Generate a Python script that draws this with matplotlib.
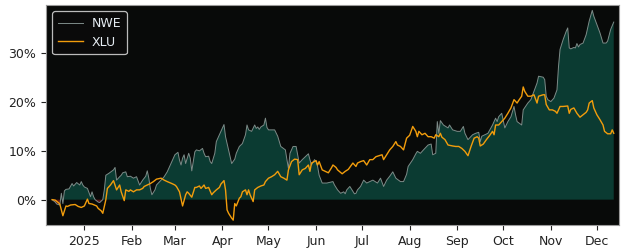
import matplotlib
matplotlib.use("Agg")
import matplotlib.pyplot as plt
import matplotlib.dates as mdates
import matplotlib.ticker as mticker
import numpy as np
import pandas as pd

# Day offsets from 2025-01-01 and cumulative returns (%)
nwe_days = [-21, -19, -18, -16, -15, -14, -13, -12, -10, -8, -7, -5, -3, -2, -1, 0, 2, 4, 5, 6, 7, 9, 10, 12,
            13, 14, 16, 19, 20, 21, 23, 24, 25, 27, 28, 30, 32, 34, 36, 38, 40, 41, 42, 43, 44, 46, 47, 50,
            52, 54, 55, 57, 58, 59, 61, 62, 63, 64, 65, 66, 68, 69, 70, 72, 73, 75, 77, 78, 79, 81, 82, 83,
            85, 86, 88, 91, 92, 94, 95, 96, 98, 99, 101, 103, 105, 106, 107, 109, 111, 112, 113, 114, 115,
            117, 118, 119, 120, 122, 124, 126, 128, 131, 132, 133, 134, 136, 138, 140, 142, 144, 146, 147,
            148, 150, 151, 152, 153, 155, 158, 162, 163, 165, 167, 169, 170, 171, 173, 175, 176, 177, 178,
            180, 182, 184, 186, 188, 191, 193, 195, 197, 199, 201, 203, 206, 208, 210, 211, 214, 216, 217,
            219, 221, 224, 226, 227, 229, 230, 231, 232, 234, 237, 238, 240, 243, 245, 247, 248, 250, 253,
            255, 257, 258, 259, 261, 263, 266, 268, 269, 270, 272, 274, 276, 278, 280, 281, 282, 285, 286,
            289, 291, 293, 295, 296, 299, 300, 301, 302, 304, 306, 308, 309, 310, 312, 314, 315, 316, 317,
            319, 320, 321, 322, 323, 325, 327, 329, 331, 332, 334, 336, 338, 340, 341, 343, 345]
nwe_vals = [0.0, -0.5, -0.9, -1.1, 1.3, -0.8, 1.8, 2.1, 2.2, 3.3, 2.8, 3.5, 3.0, 3.7, 3.0, 2.6, 2.3, 0.6,
            1.6, 0.6, 0.0, -0.5, -0.6, 0.0, 2.0, 5.0, 5.4, 6.1, 6.6, 4.0, 4.7, 5.0, 5.5, 5.7, 4.7, 4.8, 4.4,
            4.7, 3.0, 4.0, 4.8, 5.9, 4.4, 2.3, 1.0, 2.0, 3.0, 4.0, 4.7, 5.7, 6.4, 7.8, 8.5, 9.2, 9.7, 8.1,
            7.1, 8.5, 9.2, 7.4, 9.5, 8.5, 5.9, 9.8, 10.2, 10.0, 10.5, 9.5, 8.8, 8.9, 7.8, 7.4, 9.5, 11.9,
            13.3, 15.4, 12.9, 10.2, 8.8, 7.4, 8.3, 9.5, 10.9, 11.5, 13.3, 15.3, 14.3, 14.0, 15.3, 14.6, 14.9,
            14.4, 14.9, 15.3, 16.7, 14.8, 14.3, 14.3, 14.3, 13.0, 10.9, 10.2, 8.2, 6.4, 9.5, 10.9, 10.9, 7.5,
            8.2, 8.8, 9.4, 8.2, 7.1, 8.2, 7.8, 6.8, 5.0, 3.4, 3.4, 3.7, 3.0, 2.0, 1.3, 1.6, 1.2, 2.0, 2.7,
            1.7, 1.2, 1.3, 2.0, 2.7, 4.0, 3.4, 3.7, 4.0, 3.4, 4.4, 2.7, 4.0, 4.8, 5.7, 4.4, 3.7, 3.7, 5.2,
            6.8, 8.2, 9.4, 9.9, 9.5, 10.2, 11.2, 11.4, 9.2, 9.5, 16.0, 13.6, 16.2, 15.3, 14.7, 15.3, 14.3,
            14.0, 14.0, 15.0, 13.6, 12.3, 13.3, 13.6, 13.8, 11.9, 13.0, 13.3, 13.6, 15.3, 16.7, 16.0, 17.0,
            17.7, 14.7, 16.0, 17.0, 19.1, 17.4, 16.0, 15.3, 18.4, 19.8, 20.5, 22.2, 23.9, 25.3, 25.1, 24.6,
            21.2, 20.5, 20.1, 20.8, 22.5, 27.3, 30.8, 32.8, 34.5, 35.2, 31.1, 30.9, 31.2, 31.1, 32.0, 31.3,
            31.8, 32.1, 33.8, 36.6, 38.8, 37.6, 35.9, 34.2, 32.1, 32.1, 32.5, 34.9, 36.4]

xlu_days = [-21, -19, -17, -16, -14, -13, -12, -11, -9, -6, -4, -2, 0, 2, 3, 5, 8, 9, 11, 12, 14, 15, 17,
            19, 21, 23, 24, 26, 27, 29, 30, 32, 34, 36, 38, 39, 41, 43, 45, 47, 50, 52, 54, 57, 59, 60, 62,
            64, 66, 67, 68, 70, 72, 73, 75, 76, 78, 79, 81, 83, 84, 86, 88, 89, 91, 92, 93, 94, 96, 97, 98,
            99, 101, 102, 103, 105, 106, 107, 108, 110, 111, 113, 115, 117, 118, 120, 122, 124, 126, 128,
            130, 132, 133, 135, 137, 139, 140, 142, 144, 146, 147, 148, 151, 152, 153, 155, 157, 159, 161,
            162, 164, 165, 168, 170, 172, 175, 177, 178, 180, 182, 184, 186, 188, 190, 192, 194, 195, 197,
            199, 201, 203, 204, 206, 208, 210, 212, 214, 216, 217, 218, 220, 222, 224, 226, 228, 229, 231,
            232, 233, 235, 237, 240, 242, 244, 246, 248, 250, 252, 254, 256, 257, 258, 260, 262, 264, 266,
            267, 268, 270, 272, 274, 276, 278, 280, 282, 283, 285, 286, 287, 289, 291, 293, 295, 296, 299,
            300, 301, 303, 305, 307, 308, 310, 312, 315, 316, 317, 319, 321, 323, 325, 327, 328, 329, 331,
            332, 334, 336, 338, 339, 341, 343, 344, 345]
xlu_vals = [0.0, -0.1, -0.6, -0.9, -3.3, -2.3, -1.3, -1.4, -1.1, -1.0, -1.4, -1.6, -1.3, 0.1, -0.8, -0.9,
            -1.3, -1.8, -2.3, -2.8, 0.0, 2.3, 3.0, 3.9, 2.0, 3.0, 1.6, -0.2, 2.0, 1.7, 2.0, 1.6, 2.0, 2.0,
            2.3, 2.7, 3.0, 3.3, 3.7, 4.2, 4.4, 4.0, 3.7, 3.3, 3.0, 2.7, 1.6, -1.3, 1.0, 1.6, 1.3, 0.5, 2.5,
            2.5, 2.8, 2.3, 3.0, 2.3, 2.5, 1.0, 1.4, 2.0, 2.5, 3.2, 3.9, 2.0, -2.1, -2.8, -3.8, -4.2, -0.8,
            -1.3, 0.3, 0.6, 1.6, 2.0, 1.0, 2.0, 1.0, -0.4, 2.0, 2.5, 2.8, 3.0, 3.7, 4.4, 4.7, 5.1, 5.8, 4.7,
            4.4, 4.0, 6.1, 7.8, 8.3, 8.2, 5.1, 6.1, 6.4, 7.1, 5.8, 7.5, 8.0, 7.1, 7.8, 6.1, 5.8, 5.5, 6.5,
            7.1, 6.6, 6.1, 5.3, 5.8, 6.2, 7.5, 6.8, 7.5, 7.8, 8.0, 7.1, 8.2, 8.2, 8.8, 9.0, 9.2, 8.2, 9.2,
            10.2, 10.9, 11.9, 11.2, 10.9, 10.2, 12.6, 13.2, 15.0, 14.0, 12.9, 14.0, 13.3, 13.6, 12.9, 12.9,
            12.6, 13.3, 12.9, 13.6, 12.8, 12.3, 11.2, 11.0, 10.9, 10.9, 10.5, 9.9, 9.0, 10.9, 12.6, 12.9,
            12.6, 11.0, 11.4, 12.3, 13.1, 14.0, 13.3, 15.3, 15.3, 16.0, 16.7, 17.7, 18.8, 20.5, 19.8, 20.3,
            21.2, 23.1, 22.2, 21.2, 21.2, 21.5, 19.8, 21.2, 21.5, 21.5, 19.5, 18.4, 18.4, 18.1, 17.7, 19.1,
            19.1, 19.2, 17.7, 18.5, 18.8, 17.7, 16.9, 17.4, 17.9, 18.4, 19.8, 20.3, 18.8, 17.4, 16.4, 15.3,
            14.0, 13.5, 13.5, 14.3, 13.6]

month_labels = ["2025", "Feb", "Mar", "Apr", "May", "Jun", "Jul", "Aug", "Sep", "Oct", "Nov", "Dec"]

base = pd.Timestamp("2025-01-01")
nwe_dates = base + pd.to_timedelta(nwe_days, unit="D")
xlu_dates = base + pd.to_timedelta(xlu_days, unit="D")
nwe = np.array(nwe_vals)
xlu = np.array(xlu_vals)

fig = plt.figure(figsize=(6.25, 2.5), dpi=100)
ax = fig.add_axes([0.0736, 0.10, 0.917, 0.88])
ax.set_facecolor("#080a09")

ax.fill_between(nwe_dates, nwe, 0, where=nwe >= 0, interpolate=True, color="#0b3b32", lw=0)
ax.fill_between(nwe_dates, nwe, 0, where=nwe <= 0, interpolate=True, color="#5c1212", lw=0)
ax.plot(nwe_dates, nwe, color="#7d8b88", lw=0.7, label="NWE")
ax.plot(xlu_dates, xlu, color="#f29d0c", lw=1.0, label="XLU")

start = min(nwe_dates.min(), xlu_dates.min())
end = max(nwe_dates.max(), xlu_dates.max())
ax.set_xlim(start - pd.Timedelta(days=4), end + pd.Timedelta(days=3.5))
ax.set_ylim(-5.2, 39.9)

month_ticks = pd.date_range("2025-01-01", periods=len(month_labels), freq="MS")
ax.set_xticks(month_ticks)
ax.set_xticklabels(month_labels)
ax.set_yticks([0, 10, 20, 30])
ax.yaxis.set_major_formatter(mticker.FuncFormatter(lambda v, p: f"{v:.0f}%"))
ax.tick_params(axis="both", labelsize=9, colors="#222222", length=3.5, width=0.8)
for sp in ax.spines.values():
    sp.set_color("#9a9a9a")
    sp.set_linewidth(0.8)

leg = ax.legend(loc="upper left", fontsize=9, facecolor="#0a0a0a", edgecolor="#bbbbbb",
                framealpha=1, labelcolor="#e6edf3", handlelength=2.0, borderpad=0.45,
                labelspacing=0.45, handletextpad=0.7)
leg.get_frame().set_linewidth(0.9)

fig.savefig("out.png", dpi=100)
